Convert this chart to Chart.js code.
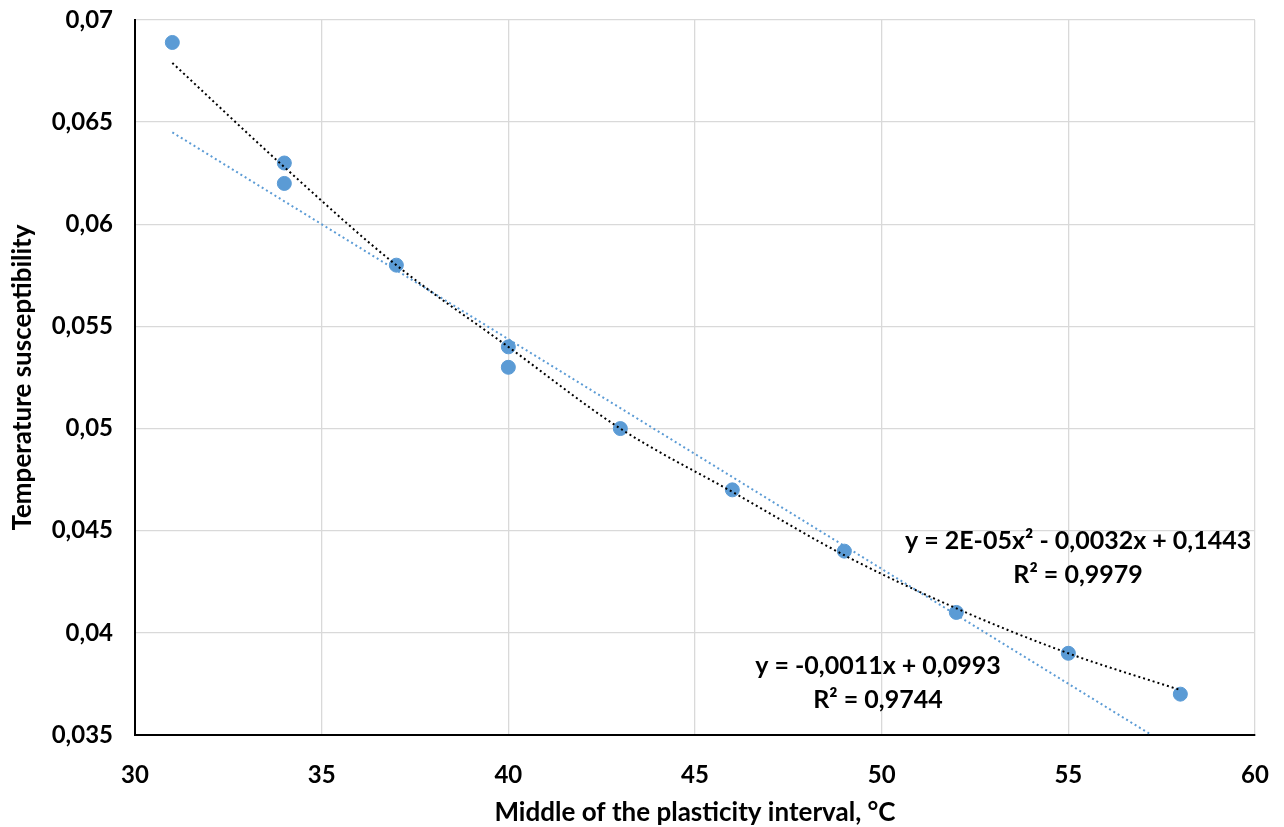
<!DOCTYPE html>
<html lang="en">

<head>
    <meta charset="UTF-8">
    <title>Temperature susceptibility</title>
    <script src="https://cdn.jsdelivr.net/npm/chart.js"></script>
    <style>
        body {
            margin: 0;
            background-color: white;
        }

        #chartContainer {
            width: 1284px;
            height: 827px;
        }
    </style>
</head>

<body>
    <div id="chartContainer">
        <canvas id="myChart"></canvas>
    </div>

    <script>
        // measured points
        const plasticityMiddle = [31, 34, 34, 37, 40, 40, 43, 46, 49, 52, 55, 58];
        const susceptibility = [0.0689, 0.063, 0.062, 0.058, 0.054, 0.053, 0.05, 0.047, 0.044, 0.041, 0.039, 0.037];

        // trendlines
        const linearX = [31, 57.23];
        const linearY = [0.0645, 0.035];
        const polyX = [31, 34, 37, 40, 43, 46, 49, 52, 55, 58];
        const polyY = [0.0679, 0.0628, 0.058, 0.054, 0.05, 0.0469, 0.0438, 0.0412, 0.039, 0.0372];

        // equation labels: text lines and where they sit (data units)
        const labelPoly = ['y = 2E-05x² - 0,0032x + 0,1443', 'R² = 0,9979'];
        const labelLinear = ['y = -0,0011x + 0,0993', 'R² = 0,9744'];
        const labelPolyAt = [55.26, 0.0445];
        const labelLinearAt = [49.9, 0.0384];

        const FONT = 'Lato, Calibri, sans-serif';
        const BLUE = '#5b9bd5';

        function toPoints(xs, ys) {
            return xs.map((x, i) => ({ x: x, y: ys[i] }));
        }

        function comma(v) {
            return Number(v.toFixed(4)).toString().replace('.', ',');
        }

        const equationLabels = {
            id: 'equationLabels',
            afterDatasetsDraw(chart) {
                const ctx = chart.ctx;
                const xs = chart.scales.x;
                const ys = chart.scales.y;
                ctx.save();
                ctx.font = 'bold 25px ' + FONT;
                ctx.fillStyle = '#000';
                ctx.textAlign = 'center';
                ctx.textBaseline = 'middle';
                [[labelPoly, labelPolyAt], [labelLinear, labelLinearAt]].forEach(([lines, at]) => {
                    const px = xs.getPixelForValue(at[0]);
                    const py = ys.getPixelForValue(at[1]);
                    lines.forEach((t, i) => ctx.fillText(t, px, py + i * 34));
                });
                ctx.restore();
            }
        };

        const ctx = document.getElementById('myChart').getContext('2d');
        const chart = new Chart(ctx, {
            type: 'scatter',
            data: {
                datasets: [{
                    label: 'Temperature susceptibility',
                    data: toPoints(plasticityMiddle, susceptibility),
                    backgroundColor: BLUE,
                    borderColor: BLUE,
                    pointRadius: 7,
                    order: 3
                }, {
                    label: 'Linear',
                    type: 'line',
                    data: toPoints(linearX, linearY),
                    borderColor: BLUE,
                    borderWidth: 2,
                    borderDash: [2, 3],
                    pointRadius: 0,
                    fill: false,
                    order: 2
                }, {
                    label: 'Poly',
                    type: 'line',
                    data: toPoints(polyX, polyY),
                    borderColor: '#000',
                    borderWidth: 2,
                    borderDash: [2, 3],
                    pointRadius: 0,
                    cubicInterpolationMode: 'monotone',
                    fill: false,
                    order: 1
                }]
            },
            options: {
                responsive: true,
                maintainAspectRatio: false,
                animation: false,
                layout: {
                    padding: { top: 20, right: 29, left: 0, bottom: 0 }
                },
                plugins: {
                    legend: { display: false },
                    tooltip: { enabled: false }
                },
                scales: {
                    x: {
                        type: 'linear',
                        min: 30,
                        max: 60,
                        ticks: {
                            stepSize: 5,
                            padding: 26,
                            color: '#000',
                            font: { family: FONT, size: 24, weight: 'bold' }
                        },
                        grid: { color: '#d9d9d9', lineWidth: 1.3, drawTicks: false },
                        border: { color: '#000', width: 2 },
                        title: {
                            display: true,
                            text: 'Middle of the plasticity interval, °C',
                            color: '#000',
                            padding: { top: 0, bottom: 1 },
                            font: { family: FONT, size: 26, weight: 'bold', lineHeight: 1 }
                        },
                        afterFit(scale) {
                            scale.height = 92;
                            scale.paddingLeft = 0;
                            scale.paddingRight = 0;
                        }
                    },
                    y: {
                        min: 0.035,
                        max: 0.07,
                        ticks: {
                            stepSize: 0.005,
                            padding: 22,
                            color: '#000',
                            font: { family: FONT, size: 24, weight: 'bold' },
                            callback: (v) => comma(v)
                        },
                        grid: { color: '#d9d9d9', lineWidth: 1.3, drawTicks: false },
                        border: { color: '#000', width: 2 },
                        title: {
                            display: true,
                            text: 'Temperature susceptibility',
                            color: '#000',
                            padding: { top: 7, bottom: 0 },
                            font: { family: FONT, size: 26, weight: 'bold' }
                        },
                        afterFit(scale) {
                            scale.width = 135;
                            scale.paddingTop = 0;
                            scale.paddingBottom = 0;
                        }
                    }
                }
            },
            plugins: [equationLabels]
        });
    </script>
</body>

</html>
